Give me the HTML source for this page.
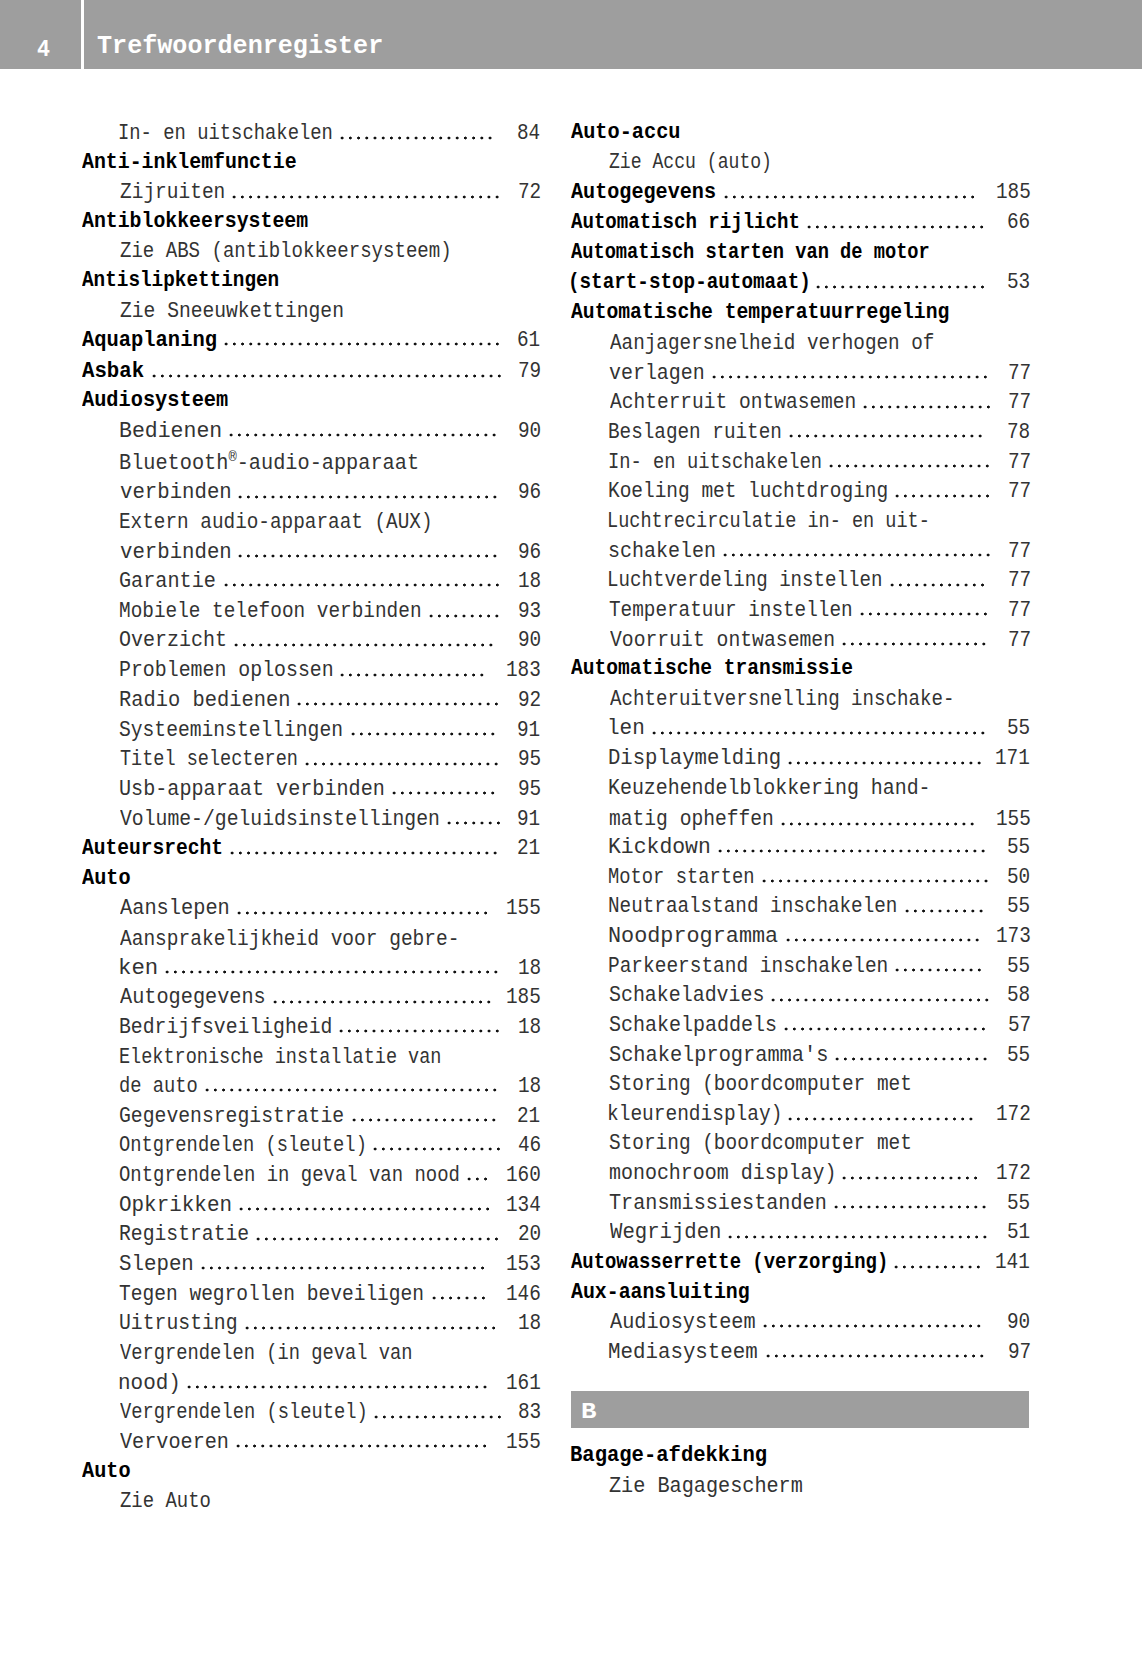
<!DOCTYPE html>
<html><head><meta charset="utf-8"><title>Trefwoordenregister</title>
<style>
html,body{margin:0;padding:0;background:#fff;}
body{width:1142px;height:1654px;position:relative;overflow:hidden;font-family:"Liberation Mono";}
.r,.b{position:absolute;white-space:nowrap;line-height:30px;font-size:22.0px;transform-origin:0 0;}
.r{color:#333;font-weight:normal;}
.b{color:#000;font-weight:bold;}
.n{font-size:22.0px;}
.reg{font-size:15px;vertical-align:8.5px;line-height:0;}
.d{position:absolute;height:6px;background-image:radial-gradient(circle at center,#111 0,#111 1.25px,rgba(0,0,0,0) 1.75px);background-size:8.22px 6px;background-repeat:repeat-x;}
#hdr{position:absolute;left:0;top:0;width:1142px;height:69.4px;background:#9e9e9e;}
#sep{position:absolute;left:81px;top:0;width:2.6px;height:70px;background:#fff;}
.w{position:absolute;white-space:nowrap;color:#fff;font-weight:bold;line-height:30px;transform-origin:0 0;}
#bbar{position:absolute;left:571px;top:1391px;width:458px;height:37px;background:#9e9e9e;}
</style></head><body>
<div id="hdr"></div><div id="sep"></div>
<div class="w" style="font-size:23.5px;left:36.55px;top:34.95px;transform:scaleX(0.9215)">4</div>
<div class="w" style="font-size:26.7px;left:97.45px;top:30.89px;transform:scaleX(0.9407)">Trefwoordenregister</div>
<div class="r" style="left:118.34px;top:119.15px;transform:scaleX(0.8568)">In- en uitschakelen</div>
<div class="r n" style="left:517.35px;top:119.15px;transform:scaleX(0.8800)">84</div>
<div class="d" style="left:338.49px;top:134.55px;width:156.18px"></div>
<div class="b" style="left:81.80px;top:147.85px;transform:scaleX(0.9029)">Anti-inklemfunctie</div>
<div class="r" style="left:119.50px;top:178.35px;transform:scaleX(0.8863)">Zijruiten</div>
<div class="r n" style="left:517.73px;top:178.35px;transform:scaleX(0.8800)">72</div>
<div class="d" style="left:229.99px;top:193.75px;width:271.26px"></div>
<div class="b" style="left:81.80px;top:206.65px;transform:scaleX(0.9015)">Antiblokkeersysteem</div>
<div class="r" style="left:119.52px;top:237.15px;transform:scaleX(0.8663)">Zie ABS (antiblokkeersysteem)</div>
<div class="b" style="left:81.80px;top:266.05px;transform:scaleX(0.8786)">Antislipkettingen</div>
<div class="r" style="left:119.50px;top:296.85px;transform:scaleX(0.8927)">Zie Sneeuwkettingen</div>
<div class="b" style="left:81.80px;top:325.55px;transform:scaleX(0.9292)">Aquaplaning</div>
<div class="r n" style="left:517.30px;top:325.55px;transform:scaleX(0.8800)">61</div>
<div class="d" style="left:222.49px;top:341.45px;width:279.48px"></div>
<div class="b" style="left:81.80px;top:356.65px;transform:scaleX(0.9405)">Asbak</div>
<div class="r n" style="left:517.71px;top:356.65px;transform:scaleX(0.8800)">79</div>
<div class="d" style="left:150.19px;top:372.55px;width:353.46px"></div>
<div class="b" style="left:81.80px;top:386.05px;transform:scaleX(0.9231)">Audiosysteem</div>
<div class="r" style="left:118.50px;top:416.85px;transform:scaleX(0.9770)">Bedienen</div>
<div class="r n" style="left:517.56px;top:416.85px;transform:scaleX(0.8800)">90</div>
<div class="d" style="left:226.69px;top:432.25px;width:271.26px"></div>
<div class="r" style="left:118.60px;top:448.85px;transform:scaleX(0.9207)">Bluetooth<span class="reg">®</span>-audio-apparaat</div>
<div class="r" style="left:119.50px;top:478.15px;transform:scaleX(0.9402)">verbinden</div>
<div class="r n" style="left:517.62px;top:478.15px;transform:scaleX(0.8800)">96</div>
<div class="d" style="left:236.29px;top:493.55px;width:263.04px"></div>
<div class="r" style="left:118.67px;top:508.25px;transform:scaleX(0.8797)">Extern audio-apparaat (AUX)</div>
<div class="r" style="left:119.50px;top:537.95px;transform:scaleX(0.9402)">verbinden</div>
<div class="r n" style="left:517.62px;top:537.95px;transform:scaleX(0.8800)">96</div>
<div class="d" style="left:236.29px;top:553.35px;width:263.04px"></div>
<div class="r" style="left:119.09px;top:566.65px;transform:scaleX(0.9179)">Garantie</div>
<div class="r n" style="left:517.64px;top:566.65px;transform:scaleX(0.8800)">18</div>
<div class="d" style="left:221.59px;top:582.05px;width:279.48px"></div>
<div class="r" style="left:118.98px;top:597.35px;transform:scaleX(0.8813)">Mobiele telefoon verbinden</div>
<div class="r n" style="left:517.59px;top:597.35px;transform:scaleX(0.8800)">93</div>
<div class="d" style="left:426.69px;top:612.75px;width:73.98px"></div>
<div class="r" style="left:119.20px;top:626.45px;transform:scaleX(0.9095)">Overzicht</div>
<div class="r n" style="left:517.56px;top:626.45px;transform:scaleX(0.8800)">90</div>
<div class="d" style="left:232.09px;top:641.85px;width:263.04px"></div>
<div class="r" style="left:118.63px;top:656.15px;transform:scaleX(0.9036)">Problemen oplossen</div>
<div class="r n" style="left:505.98px;top:656.15px;transform:scaleX(0.8800)">183</div>
<div class="d" style="left:338.49px;top:671.55px;width:147.96px"></div>
<div class="r" style="left:118.59px;top:685.85px;transform:scaleX(0.9279)">Radio bedienen</div>
<div class="r n" style="left:517.73px;top:685.85px;transform:scaleX(0.8800)">92</div>
<div class="d" style="left:295.19px;top:701.25px;width:205.50px"></div>
<div class="r" style="left:119.44px;top:715.65px;transform:scaleX(0.8929)">Systeeminstellingen</div>
<div class="r n" style="left:517.30px;top:715.65px;transform:scaleX(0.8800)">91</div>
<div class="d" style="left:348.59px;top:731.05px;width:147.96px"></div>
<div class="r" style="left:119.51px;top:745.35px;transform:scaleX(0.8423)">Titel selecteren</div>
<div class="r n" style="left:517.59px;top:745.35px;transform:scaleX(0.8800)">95</div>
<div class="d" style="left:302.69px;top:760.75px;width:197.28px"></div>
<div class="r" style="left:118.80px;top:774.75px;transform:scaleX(0.9154)">Usb-apparaat verbinden</div>
<div class="r n" style="left:517.59px;top:774.75px;transform:scaleX(0.8800)">95</div>
<div class="d" style="left:389.79px;top:790.15px;width:106.86px"></div>
<div class="r" style="left:120.10px;top:804.85px;transform:scaleX(0.8975)">Volume-/geluidsinstellingen</div>
<div class="r n" style="left:517.30px;top:804.85px;transform:scaleX(0.8800)">91</div>
<div class="d" style="left:445.19px;top:820.25px;width:57.54px"></div>
<div class="b" style="left:81.80px;top:834.05px;transform:scaleX(0.8904)">Auteursrecht</div>
<div class="r n" style="left:517.30px;top:834.05px;transform:scaleX(0.8800)">21</div>
<div class="d" style="left:227.89px;top:849.95px;width:271.26px"></div>
<div class="b" style="left:81.80px;top:863.85px;transform:scaleX(0.9186)">Auto</div>
<div class="r" style="left:120.20px;top:894.35px;transform:scaleX(0.9240)">Aanslepen</div>
<div class="r n" style="left:505.98px;top:894.35px;transform:scaleX(0.8800)">155</div>
<div class="d" style="left:235.09px;top:909.75px;width:254.82px"></div>
<div class="r" style="left:120.20px;top:924.65px;transform:scaleX(0.8865)">Aansprakelijkheid voor gebre-</div>
<div class="r" style="left:117.62px;top:954.05px;transform:scaleX(1.0160)">ken</div>
<div class="r n" style="left:517.64px;top:954.05px;transform:scaleX(0.8800)">18</div>
<div class="d" style="left:162.79px;top:969.45px;width:337.02px"></div>
<div class="r" style="left:120.20px;top:983.45px;transform:scaleX(0.9201)">Autogegevens</div>
<div class="r n" style="left:505.98px;top:983.45px;transform:scaleX(0.8800)">185</div>
<div class="d" style="left:271.19px;top:998.85px;width:221.94px"></div>
<div class="r" style="left:118.64px;top:1012.85px;transform:scaleX(0.8980)">Bedrijfsveiligheid</div>
<div class="r n" style="left:517.64px;top:1012.85px;transform:scaleX(0.8800)">18</div>
<div class="d" style="left:337.19px;top:1028.25px;width:164.40px"></div>
<div class="r" style="left:118.73px;top:1042.95px;transform:scaleX(0.8423)">Elektronische installatie van</div>
<div class="r" style="left:118.93px;top:1071.65px;transform:scaleX(0.8535)">de auto</div>
<div class="r n" style="left:517.64px;top:1071.65px;transform:scaleX(0.8800)">18</div>
<div class="d" style="left:203.49px;top:1087.05px;width:295.92px"></div>
<div class="r" style="left:119.11px;top:1101.65px;transform:scaleX(0.8973)">Gegevensregistratie</div>
<div class="r n" style="left:517.30px;top:1101.65px;transform:scaleX(0.8800)">21</div>
<div class="d" style="left:349.79px;top:1117.05px;width:147.96px"></div>
<div class="r" style="left:119.26px;top:1131.05px;transform:scaleX(0.8535)">Ontgrendelen (sleutel)</div>
<div class="r n" style="left:517.62px;top:1131.05px;transform:scaleX(0.8800)">46</div>
<div class="d" style="left:370.89px;top:1146.45px;width:131.52px"></div>
<div class="r" style="left:119.26px;top:1160.85px;transform:scaleX(0.8607)">Ontgrendelen in geval van nood</div>
<div class="r n" style="left:505.94px;top:1160.85px;transform:scaleX(0.8800)">160</div>
<div class="d" style="left:465.39px;top:1176.25px;width:24.66px"></div>
<div class="r" style="left:119.16px;top:1190.85px;transform:scaleX(0.9509)">Opkrikken</div>
<div class="r n" style="left:505.73px;top:1190.85px;transform:scaleX(0.8800)">134</div>
<div class="d" style="left:237.19px;top:1206.25px;width:254.82px"></div>
<div class="r" style="left:118.64px;top:1220.25px;transform:scaleX(0.8963)">Registratie</div>
<div class="r n" style="left:517.56px;top:1220.25px;transform:scaleX(0.8800)">20</div>
<div class="d" style="left:254.39px;top:1235.65px;width:246.60px"></div>
<div class="r" style="left:119.40px;top:1249.95px;transform:scaleX(0.9446)">Slepen</div>
<div class="r n" style="left:505.98px;top:1249.95px;transform:scaleX(0.8800)">153</div>
<div class="d" style="left:199.29px;top:1265.35px;width:287.70px"></div>
<div class="r" style="left:119.47px;top:1279.75px;transform:scaleX(0.8887)">Tegen wegrollen beveiligen</div>
<div class="r n" style="left:506.00px;top:1279.75px;transform:scaleX(0.8800)">146</div>
<div class="d" style="left:429.69px;top:1295.15px;width:57.54px"></div>
<div class="r" style="left:118.83px;top:1309.35px;transform:scaleX(0.8980)">Uitrusting</div>
<div class="r n" style="left:517.64px;top:1309.35px;transform:scaleX(0.8800)">18</div>
<div class="d" style="left:242.59px;top:1324.75px;width:254.82px"></div>
<div class="r" style="left:120.11px;top:1338.65px;transform:scaleX(0.8522)">Vergrendelen (in geval van</div>
<div class="r" style="left:118.37px;top:1368.85px;transform:scaleX(0.9521)">nood)</div>
<div class="r n" style="left:505.68px;top:1368.85px;transform:scaleX(0.8800)">161</div>
<div class="d" style="left:184.59px;top:1384.25px;width:304.14px"></div>
<div class="r" style="left:120.11px;top:1398.25px;transform:scaleX(0.8533)">Vergrendelen (sleutel)</div>
<div class="r n" style="left:517.59px;top:1398.25px;transform:scaleX(0.8800)">83</div>
<div class="d" style="left:371.69px;top:1413.65px;width:131.52px"></div>
<div class="r" style="left:120.10px;top:1427.75px;transform:scaleX(0.9171)">Vervoeren</div>
<div class="r n" style="left:505.98px;top:1427.75px;transform:scaleX(0.8800)">155</div>
<div class="d" style="left:234.19px;top:1443.15px;width:254.82px"></div>
<div class="b" style="left:81.80px;top:1456.65px;transform:scaleX(0.9186)">Auto</div>
<div class="r" style="left:119.53px;top:1486.95px;transform:scaleX(0.8606)">Zie Auto</div>
<div class="b" style="left:571.20px;top:117.75px;transform:scaleX(0.9219)">Auto-accu</div>
<div class="r" style="left:608.95px;top:148.25px;transform:scaleX(0.8230)">Zie Accu (auto)</div>
<div class="b" style="left:571.20px;top:177.95px;transform:scaleX(0.9154)">Autogegevens</div>
<div class="r n" style="left:995.68px;top:177.95px;transform:scaleX(0.8800)">185</div>
<div class="d" style="left:721.89px;top:193.85px;width:254.82px"></div>
<div class="b" style="left:571.20px;top:208.45px;transform:scaleX(0.8669)">Automatisch rijlicht</div>
<div class="r n" style="left:1007.32px;top:208.45px;transform:scaleX(0.8800)">66</div>
<div class="d" style="left:805.19px;top:224.35px;width:180.84px"></div>
<div class="b" style="left:571.20px;top:238.05px;transform:scaleX(0.8492)">Automatisch starten van de motor</div>
<div class="b" style="left:567.96px;top:268.15px;transform:scaleX(0.8757)">(start-stop-automaat)</div>
<div class="r n" style="left:1007.29px;top:268.15px;transform:scaleX(0.8800)">53</div>
<div class="d" style="left:814.39px;top:284.05px;width:172.62px"></div>
<div class="b" style="left:571.20px;top:297.95px;transform:scaleX(0.8955)">Automatische temperatuurregeling</div>
<div class="r" style="left:609.60px;top:329.15px;transform:scaleX(0.8776)">Aanjagersnelheid verhogen of</div>
<div class="r" style="left:608.93px;top:358.65px;transform:scaleX(0.9063)">verlagen</div>
<div class="r n" style="left:1007.58px;top:358.65px;transform:scaleX(0.8800)">77</div>
<div class="d" style="left:709.79px;top:374.05px;width:279.48px"></div>
<div class="r" style="left:609.60px;top:388.25px;transform:scaleX(0.8884)">Achterruit ontwasemen</div>
<div class="r n" style="left:1007.58px;top:388.25px;transform:scaleX(0.8800)">77</div>
<div class="d" style="left:861.09px;top:403.65px;width:131.52px"></div>
<div class="r" style="left:608.07px;top:417.95px;transform:scaleX(0.8778)">Beslagen ruiten</div>
<div class="r n" style="left:1007.34px;top:417.95px;transform:scaleX(0.8800)">78</div>
<div class="d" style="left:787.09px;top:433.35px;width:197.28px"></div>
<div class="r" style="left:607.75px;top:447.75px;transform:scaleX(0.8535)">In- en uitschakelen</div>
<div class="r n" style="left:1007.58px;top:447.75px;transform:scaleX(0.8800)">77</div>
<div class="d" style="left:827.09px;top:463.15px;width:164.40px"></div>
<div class="r" style="left:608.06px;top:477.35px;transform:scaleX(0.8843)">Koeling met luchtdroging</div>
<div class="r n" style="left:1007.58px;top:477.35px;transform:scaleX(0.8800)">77</div>
<div class="d" style="left:893.49px;top:492.75px;width:98.64px"></div>
<div class="r" style="left:607.45px;top:507.15px;transform:scaleX(0.8433)">Luchtrecirculatie in- en uit-</div>
<div class="r" style="left:607.97px;top:536.55px;transform:scaleX(0.9088)">schakelen</div>
<div class="r n" style="left:1007.58px;top:536.55px;transform:scaleX(0.8800)">77</div>
<div class="d" style="left:721.09px;top:551.95px;width:271.26px"></div>
<div class="r" style="left:607.39px;top:566.25px;transform:scaleX(0.8692)">Luchtverdeling instellen</div>
<div class="r n" style="left:1007.58px;top:566.25px;transform:scaleX(0.8800)">77</div>
<div class="d" style="left:887.99px;top:581.65px;width:98.64px"></div>
<div class="r" style="left:608.88px;top:595.95px;transform:scaleX(0.8787)">Temperatuur instellen</div>
<div class="r n" style="left:1007.58px;top:595.95px;transform:scaleX(0.8800)">77</div>
<div class="d" style="left:857.69px;top:611.35px;width:131.52px"></div>
<div class="r" style="left:609.50px;top:625.65px;transform:scaleX(0.8971)">Voorruit ontwasemen</div>
<div class="r n" style="left:1007.58px;top:625.65px;transform:scaleX(0.8800)">77</div>
<div class="d" style="left:839.69px;top:641.05px;width:147.96px"></div>
<div class="b" style="left:571.20px;top:654.35px;transform:scaleX(0.8896)">Automatische transmissie</div>
<div class="r" style="left:609.60px;top:685.15px;transform:scaleX(0.8696)">Achteruitversnelling inschake-</div>
<div class="r" style="left:606.86px;top:714.45px;transform:scaleX(0.9539)">len</div>
<div class="r n" style="left:1007.29px;top:714.45px;transform:scaleX(0.8800)">55</div>
<div class="d" style="left:649.69px;top:729.85px;width:337.02px"></div>
<div class="r" style="left:607.97px;top:744.25px;transform:scaleX(0.9370)">Displaymelding</div>
<div class="r n" style="left:995.38px;top:744.25px;transform:scaleX(0.8800)">171</div>
<div class="d" style="left:786.29px;top:759.65px;width:197.28px"></div>
<div class="r" style="left:608.03px;top:773.95px;transform:scaleX(0.9048)">Keuzehendelblokkering hand-</div>
<div class="r" style="left:608.65px;top:805.15px;transform:scaleX(0.8920)">matig opheffen</div>
<div class="r n" style="left:995.68px;top:805.15px;transform:scaleX(0.8800)">155</div>
<div class="d" style="left:778.69px;top:820.55px;width:197.28px"></div>
<div class="r" style="left:607.91px;top:833.05px;transform:scaleX(0.9731)">Kickdown</div>
<div class="r n" style="left:1007.29px;top:833.05px;transform:scaleX(0.8800)">55</div>
<div class="d" style="left:715.69px;top:848.45px;width:271.26px"></div>
<div class="r" style="left:608.42px;top:862.75px;transform:scaleX(0.8538)">Motor starten</div>
<div class="r n" style="left:1007.26px;top:862.75px;transform:scaleX(0.8800)">50</div>
<div class="d" style="left:760.19px;top:878.15px;width:230.16px"></div>
<div class="r" style="left:608.07px;top:892.15px;transform:scaleX(0.8769)">Neutraalstand inschakelen</div>
<div class="r n" style="left:1007.29px;top:892.15px;transform:scaleX(0.8800)">55</div>
<div class="d" style="left:902.69px;top:907.55px;width:82.20px"></div>
<div class="r" style="left:607.87px;top:921.95px;transform:scaleX(0.9914)">Noodprogramma</div>
<div class="r n" style="left:995.68px;top:921.95px;transform:scaleX(0.8800)">173</div>
<div class="d" style="left:784.19px;top:937.35px;width:197.28px"></div>
<div class="r" style="left:608.06px;top:951.95px;transform:scaleX(0.8845)">Parkeerstand inschakelen</div>
<div class="r n" style="left:1007.29px;top:951.95px;transform:scaleX(0.8800)">55</div>
<div class="d" style="left:893.49px;top:967.35px;width:90.42px"></div>
<div class="r" style="left:608.83px;top:981.35px;transform:scaleX(0.9055)">Schakeladvies</div>
<div class="r n" style="left:1007.34px;top:981.35px;transform:scaleX(0.8800)">58</div>
<div class="d" style="left:769.49px;top:996.75px;width:221.94px"></div>
<div class="r" style="left:608.83px;top:1010.75px;transform:scaleX(0.9091)">Schakelpaddels</div>
<div class="r n" style="left:1007.58px;top:1010.75px;transform:scaleX(0.8800)">57</div>
<div class="d" style="left:782.09px;top:1026.15px;width:205.50px"></div>
<div class="r" style="left:608.82px;top:1040.55px;transform:scaleX(0.9231)">Schakelprogramma&#39;s</div>
<div class="r n" style="left:1007.29px;top:1040.55px;transform:scaleX(0.8800)">55</div>
<div class="d" style="left:833.39px;top:1055.95px;width:156.18px"></div>
<div class="r" style="left:608.85px;top:1070.15px;transform:scaleX(0.8823)">Storing (boordcomputer met</div>
<div class="r" style="left:607.36px;top:1100.25px;transform:scaleX(0.8853)">kleurendisplay)</div>
<div class="r n" style="left:995.82px;top:1100.25px;transform:scaleX(0.8800)">172</div>
<div class="d" style="left:786.29px;top:1115.65px;width:189.06px"></div>
<div class="r" style="left:608.85px;top:1129.35px;transform:scaleX(0.8823)">Storing (boordcomputer met</div>
<div class="r" style="left:608.64px;top:1159.35px;transform:scaleX(0.9070)">monochroom display)</div>
<div class="r n" style="left:995.82px;top:1159.35px;transform:scaleX(0.8800)">172</div>
<div class="d" style="left:839.69px;top:1174.75px;width:139.74px"></div>
<div class="r" style="left:608.85px;top:1189.05px;transform:scaleX(0.9162)">Transmissiestanden</div>
<div class="r n" style="left:1007.29px;top:1189.05px;transform:scaleX(0.8800)">55</div>
<div class="d" style="left:831.69px;top:1204.45px;width:156.18px"></div>
<div class="r" style="left:609.60px;top:1218.45px;transform:scaleX(0.9385)">Wegrijden</div>
<div class="r n" style="left:1007.00px;top:1218.45px;transform:scaleX(0.8800)">51</div>
<div class="d" style="left:726.19px;top:1233.85px;width:263.04px"></div>
<div class="b" style="left:571.20px;top:1247.75px;transform:scaleX(0.8583)">Autowasserrette (verzorging)</div>
<div class="r n" style="left:995.38px;top:1247.75px;transform:scaleX(0.8800)">141</div>
<div class="d" style="left:892.19px;top:1263.65px;width:90.42px"></div>
<div class="b" style="left:571.20px;top:1277.55px;transform:scaleX(0.9019)">Aux-aansluiting</div>
<div class="r" style="left:609.60px;top:1307.65px;transform:scaleX(0.9193)">Audiosysteem</div>
<div class="r n" style="left:1007.26px;top:1307.65px;transform:scaleX(0.8800)">90</div>
<div class="d" style="left:761.09px;top:1323.05px;width:221.94px"></div>
<div class="r" style="left:608.29px;top:1337.75px;transform:scaleX(0.9454)">Mediasysteem</div>
<div class="r n" style="left:1007.58px;top:1337.75px;transform:scaleX(0.8800)">97</div>
<div class="d" style="left:763.89px;top:1353.15px;width:221.94px"></div>
<div class="b" style="left:569.83px;top:1441.45px;transform:scaleX(0.9332)">Bagage-afdekking</div>
<div class="r" style="left:608.88px;top:1472.25px;transform:scaleX(0.9177)">Zie Bagagescherm</div>
<div id="bbar"></div>
<div class="w" style="font-size:21.5px;left:580.68px;top:1397.48px;transform:scaleX(1.1986)">B</div>
</body></html>
